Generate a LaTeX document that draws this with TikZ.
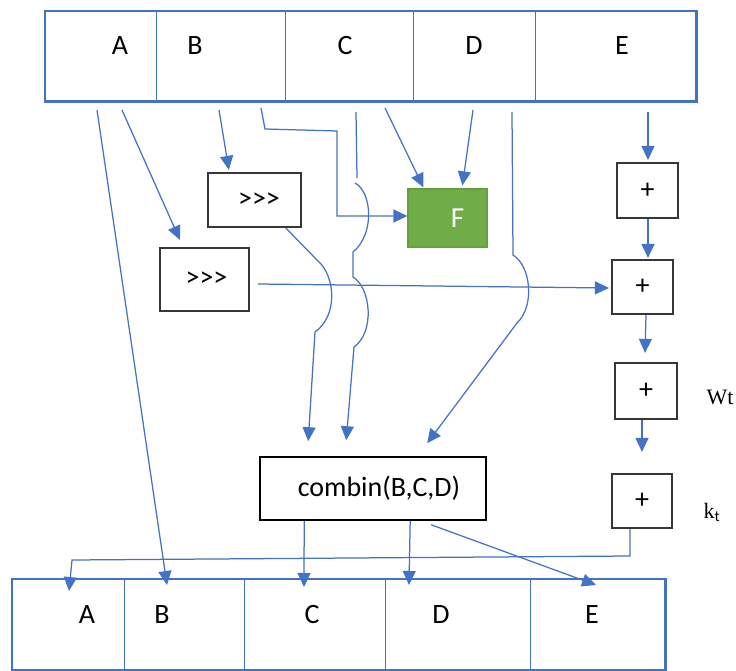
\documentclass[tikz,border=0pt]{standalone}
\usepackage{fontspec}
\setmainfont{Carlito}
\newfontfamily\serifx{Liberation Serif}
\usetikzlibrary{arrows.meta,calc}
\definecolor{lnblue}{RGB}{68,114,196}
\definecolor{fgreen}{RGB}{112,173,71}
\definecolor{fgreenb}{RGB}{100,160,62}
\definecolor{boxgray}{RGB}{55,55,55}
\begin{document}
\begin{tikzpicture}[x=1pt,y=-1pt,
  cell/.style={draw=lnblue,line width=1.4pt,inner sep=0pt,anchor=north west},
  lbl/.style={font=\fontsize{28}{32}\selectfont,text=black,inner sep=0pt},
  opbox/.style={draw=boxgray,line width=2.2pt,fill=white,inner sep=0pt},
  ln/.style={draw=lnblue,line width=1.25pt},
  arr/.style={ln,-{Triangle[length=14pt,width=13pt]}},
  side/.style={font=\serifx\fontsize{22}{24}\selectfont,inner sep=0pt}]
\useasboundingbox (0,0) rectangle (736,671);
% top bar
\node[cell,minimum width=111pt,minimum height=89pt] (tA) at (45,11) {};
\node[cell,minimum width=129pt,minimum height=89pt] (tB) at (156,11) {};
\node[cell,minimum width=128pt,minimum height=89pt] (tC) at (285,11) {};
\node[cell,minimum width=122pt,minimum height=89pt] (tD) at (413,11) {};
\node[cell,minimum width=160pt,minimum height=89pt] (tE) at (535,11) {};
\draw[draw=lnblue,line width=2.4pt] (tA.north west) rectangle (tE.south east);
\node[lbl] (ltA) at (120,46) {A};
\node[lbl] (ltB) at (195,46) {B};
\node[lbl] (ltC) at (345,46) {C};
\node[lbl] (ltD) at (474,46) {D};
\node[lbl] (ltE) at (622,46) {E};
% bottom bar
\node[cell,minimum width=112pt,minimum height=90pt] (bA) at (12,579) {};
\node[cell,minimum width=120pt,minimum height=90pt] (bB) at (124,579) {};
\node[cell,minimum width=141pt,minimum height=90pt] (bC) at (244,579) {};
\node[cell,minimum width=145pt,minimum height=90pt] (bD) at (385,579) {};
\node[cell,minimum width=134pt,minimum height=90pt] (bE) at (530,579) {};
\draw[draw=lnblue,line width=2.4pt] (bA.north west) rectangle (bE.south east);
\node[lbl] (lbA) at (87,615) {A};
\node[lbl] (lbB) at (162,615) {B};
\node[lbl] (lbC) at (312,615) {C};
\node[lbl] (lbD) at (441,615) {D};
\node[lbl] (lbE) at (592,615) {E};
% boxes
\node[opbox,minimum width=93pt,minimum height=54pt,font=\fontsize{28}{30}\selectfont] (ub) at (254.5,200) {\hspace{9pt}{>}{>}{>}};
\node[opbox,minimum width=89pt,minimum height=63pt,font=\fontsize{28}{30}\selectfont] (lb) at (204.5,279.5) {\hspace{4pt}{>}{>}{>}};
\node[draw=fgreenb,line width=1.2pt,fill=fgreen,text=white,inner sep=0pt,minimum width=79pt,minimum height=58pt,font=\fontsize{29}{30}\selectfont] (F) at (447.5,218) {\hspace{20pt}F};
\node[opbox,minimum width=61pt,minimum height=55pt,font=\fontsize{28}{30}\selectfont] (p1) at (647.5,190.5) {+};
\node[opbox,minimum width=61pt,minimum height=54pt,font=\fontsize{28}{30}\selectfont] (p2) at (642.5,287) {+};
\node[opbox,minimum width=62pt,minimum height=56pt,font=\fontsize{28}{30}\selectfont] (p3) at (646,391) {+};
\node[opbox,minimum width=60pt,minimum height=54pt,font=\fontsize{28}{30}\selectfont] (p4) at (642,501) {+};
\node[draw=black,line width=1.6pt,fill=white,inner sep=0pt,minimum width=226pt,minimum height=63pt,font=\fontsize{28}{30}\selectfont] (cb) at (373,488.5) {\hspace{12pt}combin(B,C,D)};
\node[side] (wt) at (720,397) {Wt};
\node[side] (kt) at (712,512) {k$_{\mathrm{t}}$};
% start coordinates
\coordinate (a1) at (97,110);
\coordinate (a2) at (122,110);
\coordinate (a3) at (219,110);
\coordinate (a4) at (261,108);
\coordinate (a5) at (356,112);
\coordinate (a5e) at (357,178);
\coordinate (a5b) at (355,183);
\coordinate (a6) at (385,108);
\coordinate (a7) at (473,110);
\coordinate (a8) at (512,112);
\coordinate (a9) at (648,112);
% connectors
\draw[arr] (a1) -- ($(bB.north west)+(43,6)$);
\draw[arr] (a2) -- ($(lb.north west)+(21,-7)$);
\draw[arr] (a3) -- ($(ub.north west)+(22,-2)$);
\draw[arr] (a4) -- (265,129) -- (337,131) -- (337,216) -- ($(F.west)+(0,-2)$);
\draw[ln] (a5) -- (a5e);
\draw[arr] (a5b) .. controls (372,192) and (375,234) .. (353,252) -- (353,277)
  .. controls (371,288) and (375,332) .. (354,347) -- ($(cb.north west)+(87,-16)$);
\draw[arr] (a6) -- ($(F.north west)+(16,-1)$);
\draw[arr] (a7) -- ($(F.north west)+(55,-3)$);
\draw[arr] (a8) -- (513,255) .. controls (531,266) and (535,306) .. (517,323) -- ($(cb.north west)+(168,-13)$);
\draw[arr] ($(ub.south west)+(79,0)$) -- (317,260) .. controls (336,276) and (338,316) .. (315,332) -- ($(cb.north west)+(49,-15)$);
\draw[arr] ($(lb.east)+(8,4.5)$) -- ($(p2.west)+(-2,1)$);
\draw[arr] (a9) -- ($(p1.north)+(0.5,-2)$);
\draw[arr] ($(p1.south)+(0.5,0)$) -- ($(p2.north)+(5.5,-1)$);
\draw[arr] ($(p2.south)+(3.5,0)$) -- ($(p3.north)+(-1,-9)$);
\draw[arr] ($(p3.south)+(-4,0)$) -- ($(p4.north)+(0,-21)$);
\draw[arr] ($(p4.south)+(-12,0)$) -- (630,556) -- (72,560) -- ($(bA.north west)+(57,12)$);
\draw[arr] ($(cb.south west)+(45,0)$) -- ($(bC.north west)+(60,8)$);
\draw[arr] ($(cb.south west)+(151,0)$) -- ($(bD.north west)+(24,6)$);
\draw[arr] ($(cb.south west)+(172,4)$) -- ($(bE.north west)+(66,6)$);
\end{tikzpicture}
\end{document}
